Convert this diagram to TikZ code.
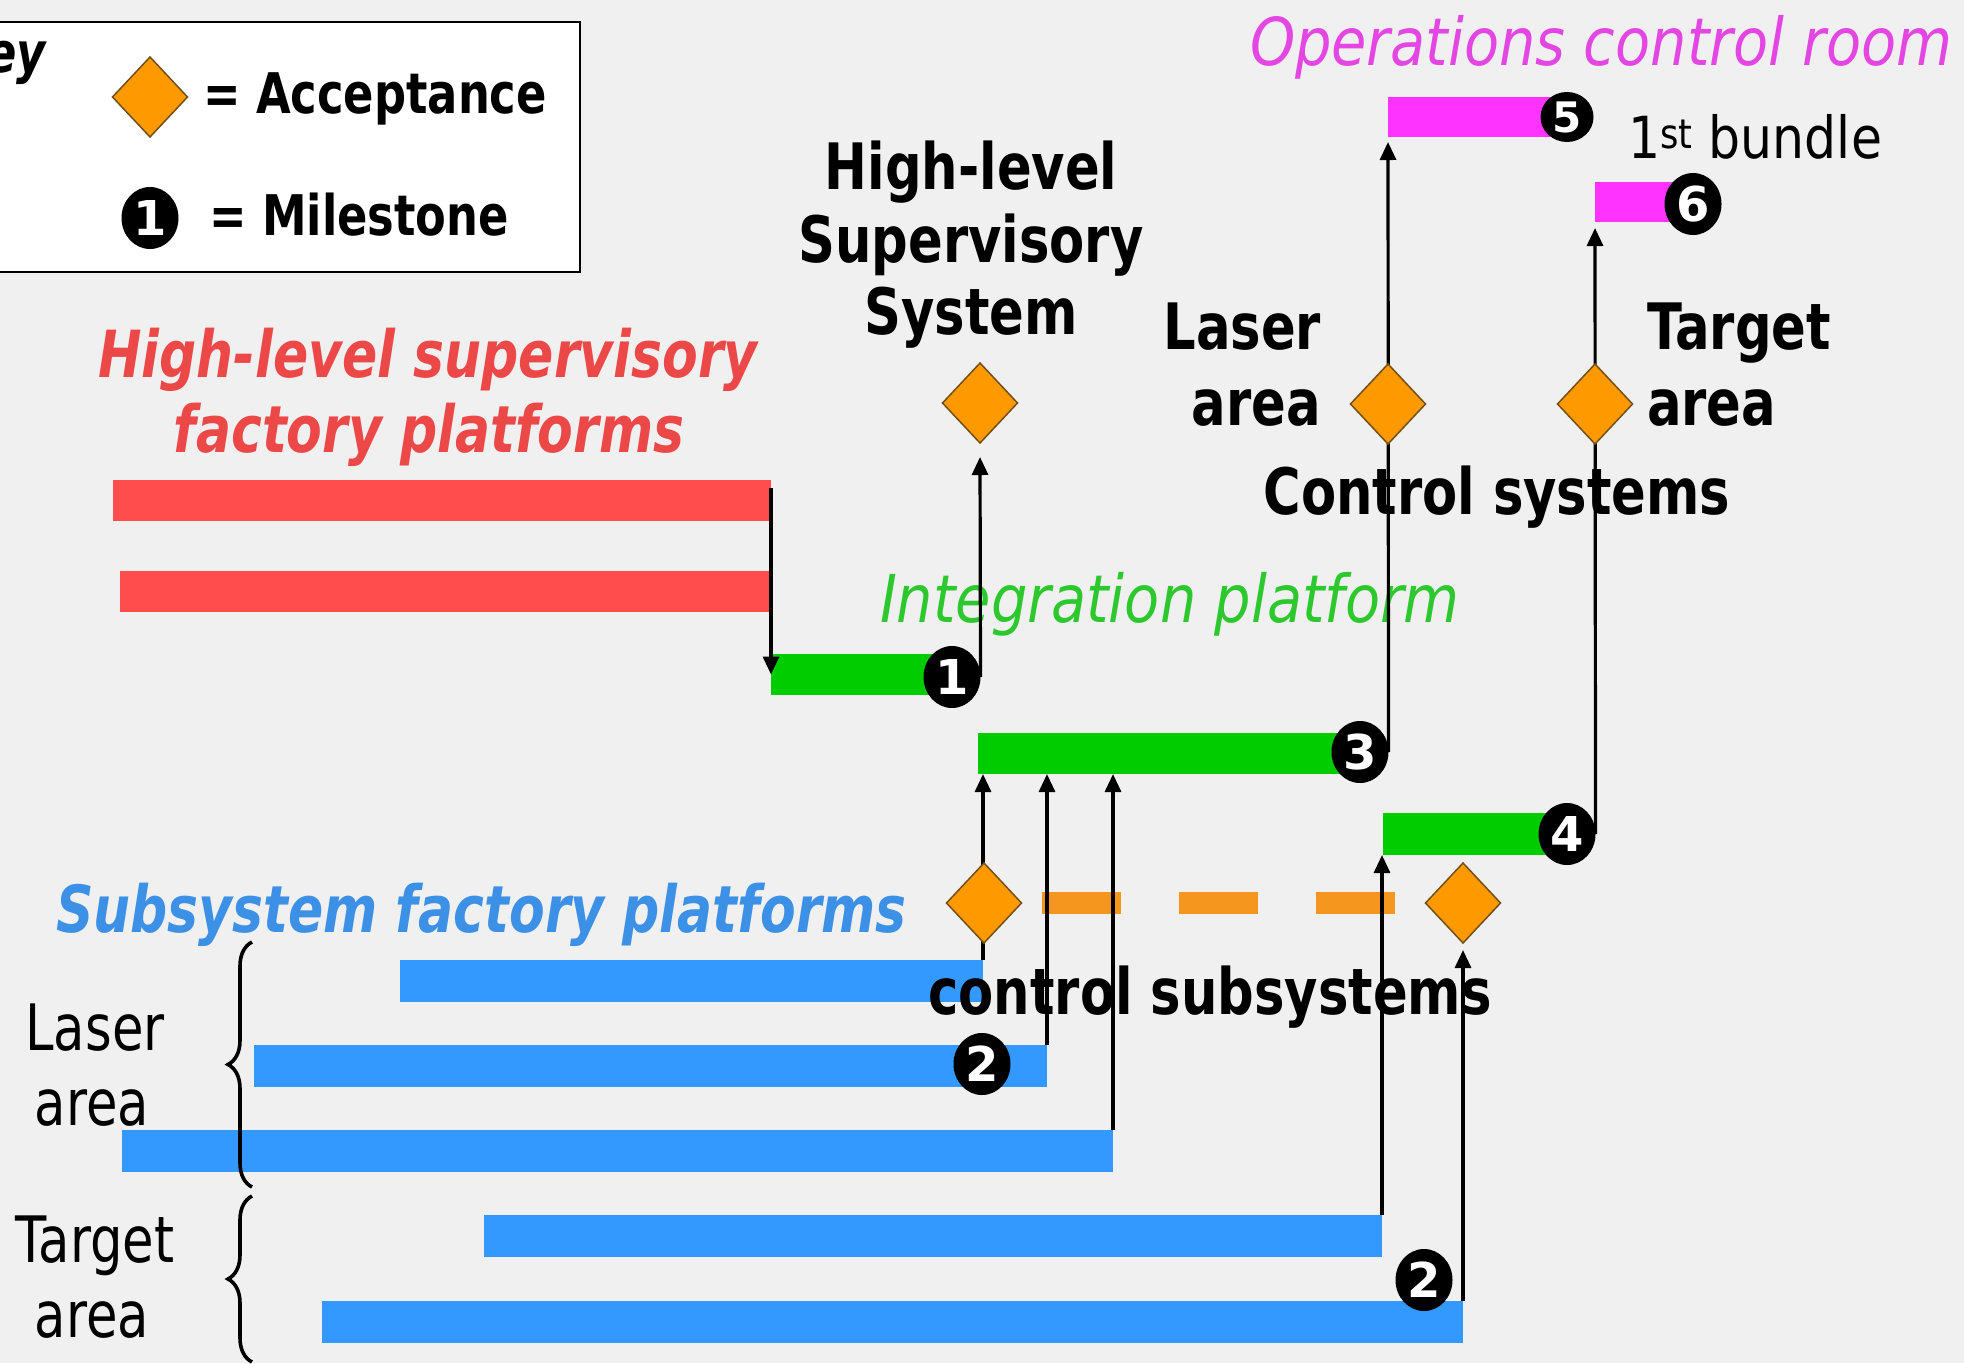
\documentclass[tikz,border=0pt]{standalone}
\usepackage{fontspec}
\usetikzlibrary{shapes.geometric,arrows.meta,decorations.pathreplacing}
\newfontfamily\cf[FakeStretch=0.8,ItalicFont={DejaVu Sans Oblique},BoldFont={DejaVu Sans Bold},BoldItalicFont={DejaVu Sans Bold Oblique}]{DejaVu Sans}
\newfontfamily\wf[FakeStretch=0.87,ItalicFont={DejaVu Sans Oblique},BoldFont={DejaVu Sans Bold},BoldItalicFont={DejaVu Sans Bold Oblique}]{DejaVu Sans}
\newfontfamily\nf[BoldFont={DejaVu Sans Bold}]{DejaVu Sans}
\newcommand\fsz[1]{\fontsize{#1}{#1}\selectfont}
\definecolor{bgc}{RGB}{240,240,240}
\definecolor{redbar}{RGB}{255,77,77}
\definecolor{redtxt}{RGB}{236,72,72}
\definecolor{grnbar}{RGB}{0,204,0}
\definecolor{grntxt}{RGB}{45,200,45}
\definecolor{blubar}{RGB}{51,153,255}
\definecolor{blutxt}{RGB}{60,145,230}
\definecolor{magbar}{RGB}{255,51,255}
\definecolor{magtxt}{RGB}{228,70,228}
\definecolor{accfill}{RGB}{255,153,0}
\definecolor{accdraw}{RGB}{115,80,25}
\definecolor{dashc}{RGB}{245,150,30}
\pgfdeclarelayer{bg}
\pgfdeclarelayer{lines}
\pgfdeclarelayer{fg}
\pgfsetlayers{bg,main,lines,fg}
\tikzset{
  bar/.style={rectangle, inner sep=0pt, outer sep=0pt, anchor=north west},
  ms/.style={ellipse, fill=black, inner sep=0pt, outer sep=0pt, minimum width=57, minimum height=62, text=white, font=\nf\bfseries\fsz{48}},
  acc/.style={diamond, fill=accfill, draw=accdraw, line width=1.5pt, inner sep=0pt, outer sep=0pt, minimum width=75, minimum height=80},
  arr/.style={line width=3.2pt, -{Triangle[width=16pt,length=18pt]}},
  lbl/.style={inner sep=0pt, outer sep=0pt, anchor=base},
  bold/.style={font=\cf\bfseries\fsz{64}},
  brc/.style={decorate, decoration={brace, amplitude=24pt}, line width=3.6pt}
}
\begin{document}
\begin{tikzpicture}[x=1pt,y=-1pt]
\useasboundingbox (0,0) rectangle (1964,1363);
% ---------- key ----------
\node[bar, draw=black, line width=2.5pt, fill=white, minimum width=590, minimum height=250] (keybox) at (-10,22) {};
\node[lbl, anchor=base east, font=\cf\bfseries\itshape\fsz{56}] (keyt) at (46,72) {Key};
\node[lbl, anchor=base west, font=\cf\bfseries\fsz{56}] (acct) at (203,113) {= Acceptance};
\node[lbl, anchor=base west, font=\cf\bfseries\fsz{56}] (mst) at (209,235) {= Milestone};
% ---------- red ----------
\node[bar, fill=redbar, minimum width=658, minimum height=41] (r1) at (113,480) {};
\node[bar, fill=redbar, minimum width=651, minimum height=41] (r2) at (120,571) {};
\node[lbl, text=redtxt, font=\cf\bfseries\itshape\fsz{65}] (rt1) at (428,377) {High-level supervisory};
\node[lbl, text=redtxt, font=\cf\bfseries\itshape\fsz{65}] (rt2) at (429,452) {factory platforms};
% ---------- green ----------
\node[bar, fill=grnbar, minimum width=181, minimum height=41] (g1) at (771,654) {};
\node[bar, fill=grnbar, minimum width=382, minimum height=41] (g3) at (978,733) {};
\node[bar, fill=grnbar, minimum width=184, minimum height=42] (g4) at (1383,813) {};
\node[lbl, anchor=base west, text=grntxt, font=\wf\itshape\fsz{66}] (intt) at (880,622) {Integration platform};
% ---------- magenta ----------
\node[bar, fill=magbar, minimum width=179, minimum height=40] (p5) at (1388,97) {};
\node[bar, fill=magbar, minimum width=98, minimum height=40] (p6) at (1595,182) {};
\node[lbl, anchor=base west, text=magtxt, font=\wf\itshape\fsz{66}] (opt) at (1250,65) {Operations control room};
\node[lbl, anchor=base west, font=\wf\fsz{58}] (bund) at (1628,158) {1\textsuperscript{st} bundle};
% ---------- blue ----------
\node[bar, fill=blubar, minimum width=583, minimum height=42] (b1) at (400,960) {};
\node[bar, fill=blubar, minimum width=793, minimum height=42] (b2) at (254,1045) {};
\node[bar, fill=blubar, minimum width=991, minimum height=42] (b3) at (122,1130) {};
\node[bar, fill=blubar, minimum width=898, minimum height=42] (b4) at (484,1215) {};
\node[bar, fill=blubar, minimum width=1141, minimum height=42] (b5) at (322,1301) {};
\node[lbl, anchor=base west, text=blutxt, font=\cf\bfseries\itshape\fsz{65}] (subt) at (56,932) {Subsystem factory platforms};
% ---------- black labels ----------
\node[lbl, bold] (hl1) at (971,189) {High-level};
\node[lbl, bold] (hl2) at (971,262) {Supervisory};
\node[lbl, bold] (hl3) at (971,334) {System};
\node[lbl, bold, anchor=base east] (la1) at (1321,349) {Laser};
\node[lbl, bold, anchor=base east] (la2) at (1321,425) {area};
\node[lbl, bold, anchor=base west] (ta1) at (1647,349) {Target};
\node[lbl, bold, anchor=base west] (ta2) at (1647,425) {area};
\node[lbl, bold] (cst) at (1497,514) {Control systems};
\node[lbl, bold] (csub) at (1210,1014) {control subsystems};
\node[lbl, font=\cf\fsz{64}] (ll1) at (95,1050) {Laser};
\node[lbl, font=\cf\fsz{64}] (ll2) at (92,1125) {area};
\node[lbl, font=\cf\fsz{64}] (tl1) at (95,1262) {Target};
\node[lbl, font=\cf\fsz{64}] (tl2) at (92,1337) {area};
\draw[brc] (252,1187) -- (252,942);
\draw[brc] (252,1362) -- (252,1196);
% ---------- milestones and acceptances ----------
\begin{pgfonlayer}{fg}
\node[acc] (dk) at (150,97) {};
\node[ms] (mk) at (150,218) {1};
\node[ms] (m1) at (952,677) {1};
\node[ms] (m3) at (1360,752) {3};
\node[ms] (m4) at (1567,834) {4};
\node[ms, minimum width=53, minimum height=50, font=\nf\bfseries\fsz{42}] (m5) at (1567,117) {5};
\node[ms] (m6) at (1693,204) {6};
\node[ms] (m2a) at (982,1064) {2};
\node[ms] (m2b) at (1424,1280) {2};
\node[acc] (dh) at (980,403) {};
\node[acc] (dl) at (1388,404) {};
\node[acc] (dt) at (1595,404) {};
\node[acc] (dcl) at (984,903) {};
\node[acc] (dcr) at (1463,903) {};
\end{pgfonlayer}
% ---------- background and dashes ----------
\begin{pgfonlayer}{bg}
\fill[bgc] (0,0) rectangle (1964,1363);
\draw[dashc, line width=22pt, dash pattern=on 79pt off 58pt] ([xshift=20pt]dcl.east) -- ([xshift=-30pt]dcr.west);
\end{pgfonlayer}
% ---------- connectors ----------
\begin{pgfonlayer}{lines}
\draw[arr] ([yshift=-8pt]r1.north east) -- (g1.west);
\draw[arr] (m1.east) -- ([yshift=-14pt]dh.south);
\draw[arr] (m3.east) -- ([yshift=-5pt]p5.south west);
\draw[arr] (m4.east) -- ([yshift=-6pt]p6.south west);
\draw[arr] (b1.north east) -- (b1.north east |- g3.south);
\draw[arr] (b2.north east) -- (b2.north east |- g3.south);
\draw[arr] (b3.north east) -- (b3.north east |- g3.south);
\draw[arr] (b4.north east) -- (b4.north east |- g4.south);
\draw[arr] (b5.north east) -- ([yshift=-7pt]dcr.south);
\end{pgfonlayer}
\end{tikzpicture}
\end{document}
